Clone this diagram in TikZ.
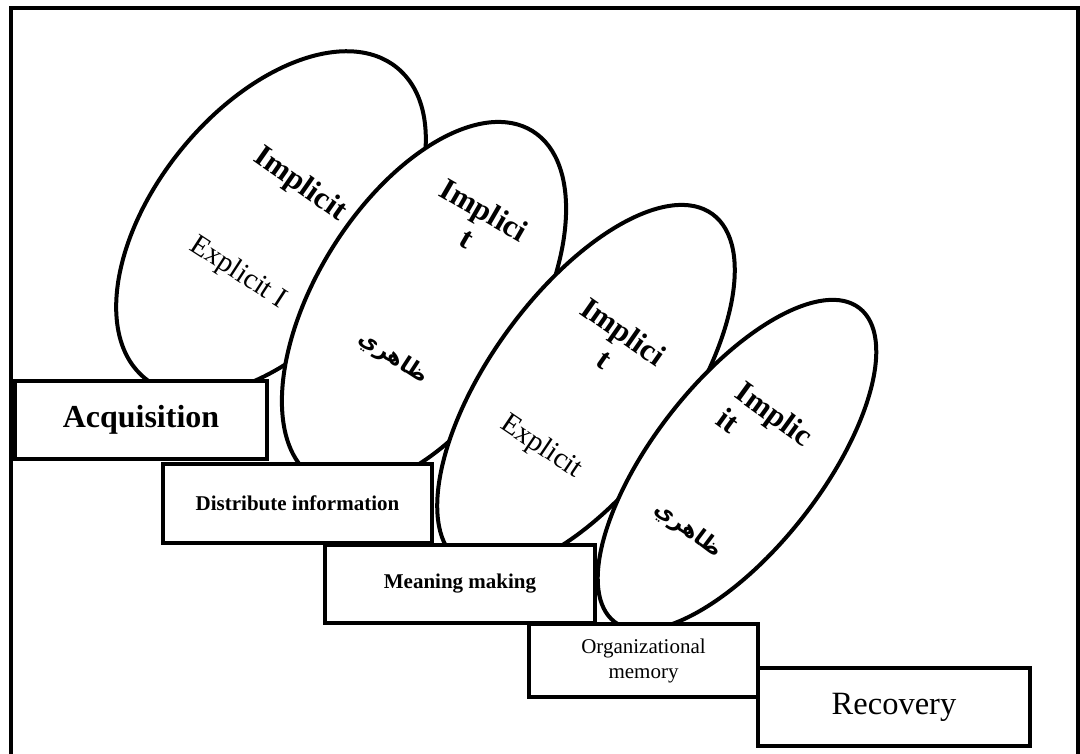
\documentclass[tikz,border=0pt]{standalone}
\usepackage{fontspec}
\setmainfont{Liberation Serif}
\newfontfamily\arabicfont[Script=Arabic]{DejaVu Sans}
\TeXXeTstate=1
\usetikzlibrary{shapes.geometric}
\begin{document}
\begin{tikzpicture}[x=1pt,y=-1pt,
  oval/.style={ellipse, draw, line width=4pt, fill=white, inner sep=0pt, outer sep=0pt},
  stepbox/.style={rectangle, draw, line width=4pt, fill=white, inner sep=0pt, align=center},
  bt/.style={font=\bfseries\fontsize{31}{33}\selectfont, align=center, inner sep=0pt},
  rt/.style={font=\fontsize{29}{33}\selectfont, inner sep=0pt},
  ar/.style={font=\arabicfont\bfseries\fontsize{22}{26}\selectfont, inner sep=0pt}]
\useasboundingbox (0,0) rectangle (1080,754);
\draw[line width=3.5pt] (11,754) -- (11,8) -- (1078,8) -- (1078,754);
% ellipses
\node[oval, minimum width=400pt, minimum height=232pt, rotate=51] (e1) at (271,223) {};
\node[oval, minimum width=410pt, minimum height=216pt, rotate=58] (e2) at (424,305) {};
\node[oval, minimum width=430pt, minimum height=194pt, rotate=54] (e3) at (586,388) {};
\node[oval, minimum width=398pt, minimum height=168pt, rotate=52] (e4) at (737,465) {};
% texts in ellipses
\node[bt, rotate=-35] (i1) at (300,185) {Implicit};
\node[rt, rotate=-33] (x1) at (238,273) {Explicit I};
\node[bt, rotate=-30] (i2) at (476,224) {Implici\\t};
\node[ar, rotate=-33] (a2) at (393,358) {\beginR ظاهري\endR};
\node[bt, rotate=-35] (i3) at (614,345) {Implici\\t};
\node[rt, rotate=-34] (x3) at (541,447) {Explicit};
\node[bt, rotate=-36, align=left] (i4) at (765,427) {Implic\\it};
\node[ar, rotate=-37] (a4) at (688,530) {\beginR ظاهري\endR};
% steps
\node[stepbox, minimum width=252pt, minimum height=78pt, font=\bfseries\fontsize{32}{36}\selectfont] (s1) at (141,420) {Acquisition};
\node[stepbox, minimum width=269pt, minimum height=79pt, font=\bfseries\fontsize{21}{25}\selectfont] (s2) at (297.5,503.5) {Distribute information};
\node[stepbox, minimum width=270pt, minimum height=78pt, font=\bfseries\fontsize{21}{25}\selectfont] (s3) at (460,584) {Meaning making};
\node[stepbox, minimum width=229pt, minimum height=73pt, font=\fontsize{21}{25}\selectfont] (s4) at (643.5,660.5) {Organizational\\memory};
\node[stepbox, minimum width=272pt, minimum height=78pt, font=\fontsize{32.5}{36}\selectfont] (s5) at (894,707) {Recovery};
\end{tikzpicture}
\end{document}
